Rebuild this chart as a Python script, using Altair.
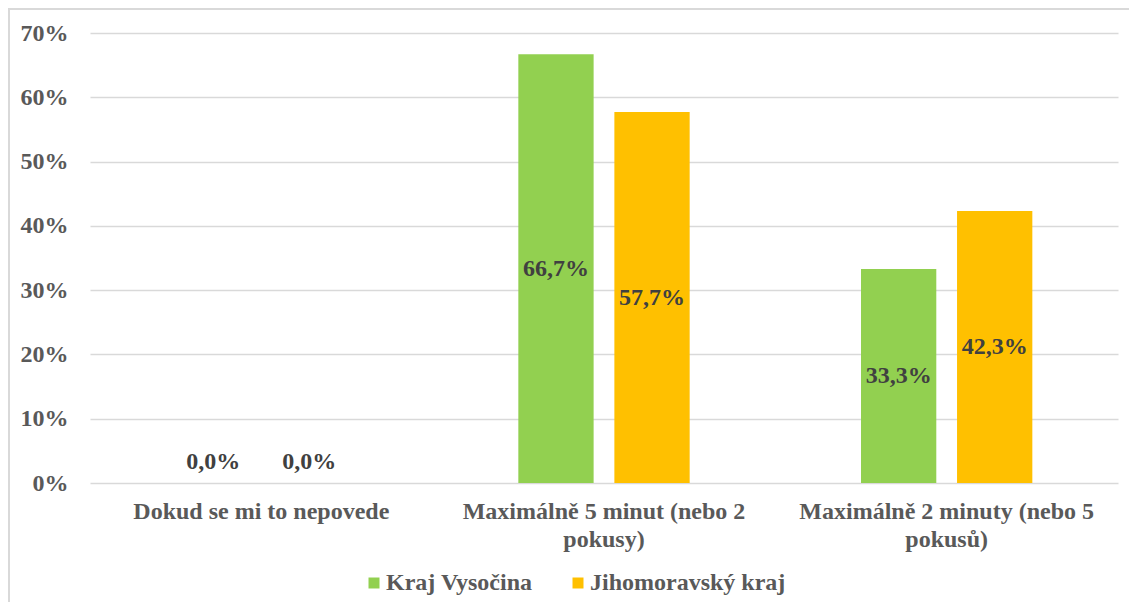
import altair as alt
import pandas as pd

categories = [
    "Dokud se mi to nepovede",
    "Maximálně 5 minut (nebo 2 pokusy)",
    "Maximálně 2 minuty (nebo 5 pokusů)",
]
category_lines = [
    ["Dokud se mi to nepovede"],
    ["Maximálně 5 minut (nebo 2", "pokusy)"],
    ["Maximálně 2 minuty (nebo 5", "pokusů)"],
]
series = ["Kraj Vysočina", "Jihomoravský kraj"]
vysocina = [0.0, 66.7, 33.3]
jihomoravsky = [0.0, 57.7, 42.3]
colors = ["#92D050", "#FFC000"]
y_ticks = [0, 10, 20, 30, 40, 50, 60, 70]

rows = []
for ci, cat in enumerate(categories):
    rows.append({"cat": cat, "series": series[0], "v": vysocina[ci]})
    rows.append({"cat": cat, "series": series[1], "v": jihomoravsky[ci]})
df = pd.DataFrame(rows)

parts = []
for cat, lines in zip(categories, category_lines):
    arr = "[" + ",".join("'" + l + "'" for l in lines) + "]"
    parts.append(f"datum.value == '{cat}' ? {arr}")
label_expr = " : ".join(parts) + " : datum.value"

FONT = "Liberation Serif, Times New Roman, DejaVu Serif, serif"
AX = "#595959"

base = alt.Chart(df).transform_calculate(
    lbl="replace(format(datum.v, '.1f'), '.', ',') + '%'",
    mid="datum.v > 0 ? datum.v / 2 : 3.3",
)

x = alt.X(
    "cat:N",
    sort=categories,
    title=None,
    scale=alt.Scale(paddingInner=0.5, paddingOuter=0.25),
    axis=alt.Axis(
        labelExpr=label_expr,
        labelAngle=0,
        labelFont=FONT,
        labelFontSize=24,
        labelFontWeight="bold",
        labelColor=AX,
        labelLineHeight=28,
        labelPadding=16,
        labelBaseline="top",
        ticks=False,
        domain=False,
        grid=False,
        labelLimit=400,
    ),
)
xoff = alt.XOffset(
    "series:N", sort=series, scale=alt.Scale(paddingInner=0.216, paddingOuter=0)
)

bars = base.mark_bar().encode(
    x=x,
    xOffset=xoff,
    y=alt.Y(
        "v:Q",
        title=None,
        scale=alt.Scale(domain=[0, 70], nice=False),
        axis=alt.Axis(
            values=y_ticks,
            labelExpr="datum.value + '%'",
            labelFont=FONT,
            labelFontSize=24,
            labelFontWeight="bold",
            labelColor=AX,
            labelPadding=22,
            ticks=False,
            domain=False,
            grid=True,
            gridColor="#d9d9d9",
            gridWidth=1.5,
        ),
    ),
    color=alt.Color(
        "series:N",
        sort=series,
        scale=alt.Scale(domain=series, range=colors),
        legend=alt.Legend(
            title=None,
            orient="none",
            direction="horizontal",
            legendX=272,
            legendY=538,
            symbolType="square",
            symbolSize=121,
            symbolStrokeWidth=0,
            symbolOpacity=1,
            labelFont=FONT,
            labelFontSize=24,
            labelFontWeight="bold",
            labelColor=AX,
            labelOffset=0,
            labelLimit=400,
            columnPadding=33,
        ),
    ),
)

labels = base.mark_text(
    font=FONT, fontSize=24, fontWeight="bold", color="#404040", baseline="middle"
).encode(
    x=alt.X("cat:N", sort=categories),
    xOffset=alt.XOffset("series:N", sort=series),
    y=alt.Y("mid:Q"),
    text="lbl:N",
)

border = alt.Chart(df).mark_rect(fill=None, stroke="#d9d9d9", strokeWidth=1.5).encode(
    x=alt.value(-81), x2=alt.value(1200), y=alt.value(-24), y2=alt.value(700)
)

chart = (
    alt.layer(border, bars, labels)
    .properties(
        width=1028,
        height=450,
        autosize=alt.AutoSizeParams(type="none"),
        padding={"left": 82, "top": 25, "right": 11, "bottom": 119},
    )
    .configure_view(stroke=None)
)

chart.save("out.html", embed_options={"renderer": "svg", "actions": False})
